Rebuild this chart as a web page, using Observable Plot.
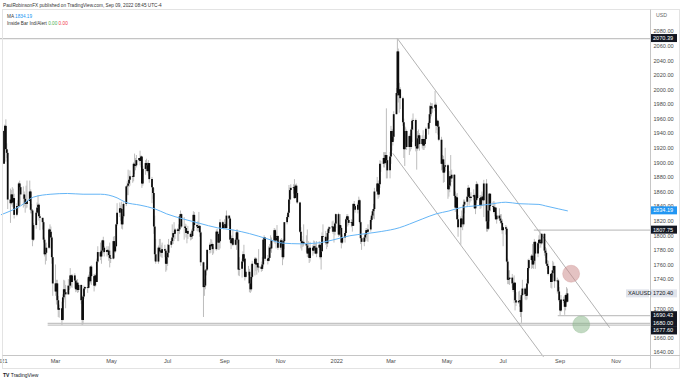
<!DOCTYPE html>
<html><head><meta charset="utf-8">
<script src="https://cdn.jsdelivr.net/npm/d3@7"></script>
<script src="https://cdn.jsdelivr.net/npm/@observablehq/plot@0.6"></script>
<style>
html,body{margin:0;padding:0;background:#fff;}
#chart{width:680px;height:380px;overflow:hidden;}
</style></head><body>
<div id="chart"></div>
<script>
// ---- Data (XAUUSD daily, Jan 4 2021 – Sep 9 2022, one week per line) ----
const startDate = "2021-01-04";
const endDate = "2022-09-09";
const firstOpen = 1898;
const close = [
1943,1950,1918,1913,1849, 1844,1856,1845,1851,1828, 1840,1840,1871,1866,1856, 1856,1850,1843,1843,1847,
1860,1835,1834,1794,1814, 1831,1838,1842,1826,1824, 1818,1794,1774,1776,1783, 1808,1805,1797,1770,1734,
1723,1734,1711,1698,1700, 1684,1715,1726,1722,1719, 1731,1731,1745,1736,1745, 1738,1726,1735,1725,1732,
1711,1684,1716,1727,1729, 1728,1743,1737,1757,1744, 1731,1745,1736,1764,1777, 1771,1779,1793,1783,1777,
1780,1779,1773,1769,1768, 1792,1778,1785,1815,1831, 1837,1836,1815,1826,1843, 1867,1868,1871,1876,1881,
1880,1898,1895,1896,1903, 1906,1902,1908,1871,1891, 1899,1896,1888,1899,1877, 1866,1858,1812,1774,1764,
1783,1778,1779,1776,1781, 1779,1761,1770,1776,1787, 1792,1797,1803,1802,1808, 1806,1808,1826,1829,1812,
1812,1810,1803,1806,1802, 1798,1799,1806,1828,1814, 1812,1810,1813,1804,1763, 1729,1731,1752,1753,1780,
1787,1785,1788,1781,1781, 1805,1802,1790,1792,1818, 1810,1814,1815,1810,1827, 1823,1794,1789,1796,1787,
1794,1804,1794,1753,1754, 1764,1774,1768,1743,1750, 1750,1734,1726,1743,1761, 1768,1760,1762,1756,1757,
1754,1760,1794,1797,1768, 1765,1769,1783,1782,1793, 1807,1793,1797,1799,1783, 1793,1788,1770,1792,1818,
1825,1831,1849,1862,1865, 1866,1851,1868,1858,1845, 1805,1792,1789,1791,1788, 1786,1775,1782,1769,1783,
1779,1785,1783,1775,1783, 1787,1770,1778,1799,1798, 1790,1789,1803,1809,1811, 1812,1805,1805,1816,1829,
1801,1814,1810,1790,1797, 1803,1822,1826,1821,1817, 1818,1813,1843,1840,1835, 1842,1848,1818,1796,1791,
1797,1801,1807,1805,1808, 1821,1827,1833,1836,1860, 1871,1856,1870,1898,1898, 1906,1899,1910,1903,1889,
1908,1943,1928,1935,1966, 1995,2052,1992,2000,1988, 1955,1918,1943,1943,1921, 1936,1921,1945,1957,1958,
1922,1919,1933,1937,1925, 1932,1923,1925,1932,1946, 1954,1966,1977,1974,1975, 1979,1950,1957,1949,1931,
1898,1904,1886,1894,1896, 1863,1868,1881,1878,1883, 1854,1838,1852,1822,1811, 1823,1815,1815,1842,1846,
1853,1865,1853,1851,1853, 1855,1837,1848,1870,1851, 1841,1852,1853,1848,1871, 1819,1809,1834,1857,1840,
1839,1832,1838,1822,1827, 1823,1820,1817,1807,1811, 1809,1764,1739,1740,1742, 1734,1725,1735,1711,1708,
1710,1711,1695,1718,1727, 1719,1717,1734,1755,1766, 1772,1760,1765,1791,1775, 1789,1794,1791,1789,1802,
1779,1776,1761,1758,1747, 1736,1748,1752,1758,1737, 1738,1723,1711,1697,1712, 1710,1702,1718,1709,1720.4
];
const high = [
1944,1952,1959,1926,1917, 1864,1862,1866,1864,1857, 1844,1848,1873,1875,1871, 1867,1860,1855,1868,1875,
1875,1863,1843,1836,1817, 1834,1845,1855,1844,1829, 1823,1820,1797,1789,1790, 1810,1815,1812,1799,1770,
1760,1739,1739,1717,1705, 1709,1719,1739,1738,1732, 1740,1739,1755,1746,1747, 1748,1741,1739,1740,1735,
1732,1713,1718,1731,1730, 1741,1746,1750,1758,1759, 1747,1747,1748,1768,1785, 1790,1780,1794,1798,1785,
1785,1781,1785,1790,1779, 1798,1799,1789,1816,1844, 1845,1841,1846,1829,1845, 1868,1874,1890,1883,1889,
1882,1900,1912,1906,1910, 1906,1916,1910,1907,1895, 1903,1905,1900,1903,1899, 1880,1866,1865,1827,1795,
1786,1795,1795,1787,1790, 1787,1782,1774,1788,1795, 1795,1815,1806,1818,1810, 1810,1815,1829,1834,1830,
1825,1816,1815,1810,1813, 1804,1808,1810,1833,1832, 1817,1820,1832,1812,1806, 1764,1740,1754,1758,1781,
1790,1795,1794,1790,1784, 1808,1809,1805,1795,1822, 1820,1817,1822,1818,1834, 1827,1825,1799,1800,1808,
1796,1808,1808,1795,1770, 1768,1778,1787,1769,1753, 1758,1754,1739,1760,1765, 1770,1770,1768,1763,1781,
1764,1770,1796,1800,1796, 1773,1785,1788,1800,1797, 1810,1809,1804,1814,1800, 1795,1796,1794,1795,1818,
1828,1833,1869,1866,1870, 1870,1877,1870,1871,1868, 1846,1811,1799,1794,1815, 1800,1808,1792,1784,1791,
1787,1793,1792,1789,1792, 1792,1790,1781,1804,1815, 1806,1796,1807,1812,1812, 1819,1820,1810,1818,1830,
1831,1816,1829,1812,1801, 1806,1824,1829,1829,1826, 1822,1821,1844,1847,1842, 1845,1853,1850,1820,1799,
1799,1803,1810,1810,1815, 1824,1829,1836,1843,1865, 1880,1875,1875,1903,1902, 1914,1914,1914,1974,1910,
1914,1950,1946,1945,1970, 2002,2070.39,2056,2009,2003, 1990,1960,1950,1948,1945, 1938,1940,1948,1960,1967,
1960,1930,1943,1945,1940, 1937,1944,1934,1937,1948, 1956,1978,1982,1981,1981, 1998,1982,1960,1958,1955,
1935,1910,1909,1900,1920, 1898,1872,1888,1910,1890, 1884,1860,1856,1858,1828, 1826,1834,1827,1849,1849,
1864,1869,1866,1857,1859, 1863,1857,1849,1874,1872, 1855,1855,1860,1857,1876, 1877,1833,1835,1858,1857,
1846,1847,1845,1837,1831, 1837,1829,1829,1822,1812, 1814,1812,1768,1752,1752, 1747,1737,1745,1736,1722,
1723,1724,1715,1721,1739, 1729,1727,1740,1767,1768, 1774,1788,1768,1795,1792, 1791,1800,1807.75,1795,1803,
1803,1784,1782,1766,1765, 1748,1752,1765,1763,1757, 1742,1740,1729,1711,1718, 1716,1713,1720,1729,1727
];
const low = [
1898,1931,1901,1906,1836, 1817,1842,1839,1837,1823, 1826,1831,1837,1861,1841, 1838,1840,1831,1837,1838,
1850,1830,1830,1785,1792, 1809,1829,1834,1820,1807, 1808,1790,1771,1760,1765, 1781,1793,1782,1761,1717,
1717,1705,1712,1688,1687, 1677,1683,1708,1712,1700, 1719,1725,1727,1729,1728, 1728,1722,1723,1721,1722,
1706,1677,1678,1713,1725, 1721,1727,1732,1734,1732, 1723,1729,1731,1736,1762, 1766,1761,1776,1775,1771,
1771,1771,1765,1756,1762, 1767,1769,1776,1784,1813, 1825,1820,1809,1808,1823, 1840,1855,1855,1866,1868,
1872,1874,1884,1889,1893, 1901,1896,1893,1865,1868, 1883,1888,1886,1882,1872, 1844,1850,1802,1765,1761,
1761,1775,1771,1770,1769, 1770,1750,1752,1758,1769, 1783,1789,1788,1792,1795, 1792,1792,1802,1823,1810,
1794,1807,1797,1789,1795, 1793,1794,1795,1805,1810, 1806,1805,1806,1798,1758, 1688,1717,1726,1745,1751,
1775,1776,1781,1773,1775, 1779,1799,1780,1780,1782, 1810,1808,1809,1809,1809, 1813,1790,1781,1786,1785,
1786,1780,1789,1745,1744, 1742,1762,1763,1738,1741, 1745,1722,1721,1723,1741, 1745,1751,1746,1752,1749,
1750,1751,1757,1788,1765, 1760,1764,1775,1778,1776, 1790,1788,1782,1792,1780, 1780,1785,1759,1767,1781,
1815,1822,1824,1843,1849, 1857,1850,1851,1853,1843, 1803,1782,1779,1784,1785, 1777,1770,1770,1762,1764,
1772,1775,1775,1774,1770, 1780,1767,1753,1778,1792, 1787,1781,1784,1795,1806, 1805,1802,1790,1800,1810,
1798,1799,1807,1782,1788, 1790,1800,1816,1812,1814, 1811,1805,1813,1834,1831, 1830,1837,1816,1788,1780,
1785,1792,1795,1792,1791, 1805,1818,1822,1823,1822, 1855,1850,1852,1865,1887, 1893,1893,1897,1878,1878,
1878,1898,1916,1923,1930, 1966,1991,1982,1968,1973, 1950,1906,1895,1924,1917, 1910,1915,1918,1928,1944,
1915,1890,1916,1924,1916, 1919,1917,1917,1920,1930, 1938,1947,1960,1963,1968, 1970,1940,1944,1938,1929,
1889,1890,1872,1873,1888, 1850,1853,1859,1866,1873, 1851,1832,1837,1821,1798, 1787,1811,1807,1812,1830,
1840,1852,1841,1845,1847, 1848,1836,1829,1844,1849, 1836,1837,1845,1840,1825, 1805,1805,1807,1819,1833,
1835,1830,1826,1821,1816, 1820,1816,1815,1802,1785, 1801,1763,1733,1733,1732, 1728,1722,1707,1697,1703,
1706,1702,1688,1680,1717, 1712,1711,1712,1732,1752, 1754,1755,1754,1762,1754, 1770,1782,1788,1783,1787,
1772,1769,1759,1754,1745, 1728,1727,1742,1751,1728, 1720,1722,1709,1690.43,1695, 1707,1691,1697,1707,1708
];
// Moving average (blue line) read at sample dates
const maDates = ["2021-01-01","2021-01-22","2021-02-05","2021-02-24","2021-03-14","2021-03-31","2021-04-19","2021-05-07","2021-05-16","2021-06-01","2021-06-17","2021-06-30","2021-07-18","2021-08-05","2021-08-24","2021-09-10","2021-09-28","2021-10-17","2021-11-03","2021-11-22","2021-12-10","2021-12-27","2022-01-15","2022-02-02","2022-02-19","2022-03-10","2022-03-21","2022-04-04","2022-04-19","2022-05-03","2022-05-17","2022-06-01","2022-06-15","2022-07-04","2022-07-18","2022-08-09","2022-08-16","2022-08-30","2022-09-09"];
const maValues = [1829,1841,1853,1857,1858,1857,1857,1852,1846,1842,1837,1830,1823,1817,1811,1808,1803,1796,1790,1789,1790,1794,1800,1803,1806,1811,1816,1823,1830,1834,1839,1841,1843,1846,1844,1843,1841,1837,1834.19];
// Drawn channel lines
const channelStartDates = ["2022-03-08","2022-03-03"];
const channelStartPrices = [2070.39,1913];
const channelEndDates = ["2022-10-25","2022-08-14"];
const channelEndPrices = [1674,1634];
// Horizontal levels
const levelValues = [2070.39,1807.75,1690.43,1680.00,1677.60];
const levelStarts = ["2020-12-30","2022-08-04","2022-08-30","2021-02-21","2021-02-21"];
// Circles
const circleDates = ["2022-09-13","2022-09-24"];
const circlePrices = [1748,1678.4];
const circleColors = ["#c98686","#86b486"];
// Price tags on right axis
const tagValues = [2070.39,1834.19,1807.75,1720.40,1690.43,1680.00,1677.60];
const tagBgs = ["#131722","#2196f3","#131722","#e0e3eb","#131722","#131722","#131722"];
const tagFgs = ["#fff","#fff","#fff","#131722","#fff","#fff","#fff"];
// Axis ticks (1720 and 1680 sit under the price tags and are hidden, as in the reference)
const xTickDates = ["2021-01-01","2021-03-01","2021-05-01","2021-07-01","2021-09-01","2021-11-01","2022-01-01","2022-03-01","2022-05-01","2022-07-01","2022-09-01","2022-11-01"];
const yTickValues = [1640,1660,1700,1740,1760,1780,1800,1820,1840,1860,1880,1900,1920,1940,1960,1980,2000,2020,2040,2060,2080];

// ---- Build tables ----
const days = d3.utcDays(new Date(startDate+"T00:00Z"), d3.utcDay.offset(new Date(endDate+"T00:00Z"),1))
  .filter(d => d.getUTCDay() !== 0 && d.getUTCDay() !== 6);
const bars = days.map((d,i) => ({date:d, open: i ? close[i-1] : firstOpen, close: close[i], high: high[i], low: low[i]}));
const ma = maDates.map((d,i) => ({date:new Date(d+"T00:00Z"), v:maValues[i]}));
const xDomain = [new Date("2020-12-31T03:40Z"), new Date("2022-12-08T09:00Z")];
const channels = channelStartDates.map((d,i)=>({x1:new Date(d+"T00:00Z"), y1:channelStartPrices[i], x2:new Date(channelEndDates[i]+"T00:00Z"), y2:channelEndPrices[i]}));
const levels = levelValues.map((v,i)=>({v, start:new Date(levelStarts[i]+"T00:00Z"), end:xDomain[1]}));
const circles = circleDates.map((d,i)=>({date:new Date(d+"T00:00Z"), v:circlePrices[i], c:circleColors[i]}));
const monthNames = ["Jan","Feb","Mar","Apr","May","Jun","Jul","Aug","Sep","Oct","Nov","Dec"];

const plot = Plot.plot({
  width: 680, height: 380,
  marginTop: 9, marginBottom: 25, marginLeft: 0, marginRight: 30,
  style: {fontFamily: "'Liberation Sans', Arial, sans-serif", fontSize: "5.6px", background: "#fff", overflow: "hidden"},
  x: {type: "utc", domain: xDomain, axis: null},
  y: {domain: [1635.9, 2110.2], axis: null},
  marks: [
    Plot.axisX({ticks: xTickDates.map(d=>new Date(d+"T00:00Z")), anchor: "bottom", tickSize: 0, tickPadding: 4, color: "#4a4a4a",
      tickFormat: d => d.getUTCMonth() === 0 ? String(d.getUTCFullYear()) : monthNames[d.getUTCMonth()], label: null}),
    Plot.axisY({ticks: yTickValues, anchor: "right", tickSize: 0, tickPadding: 3, color: "#4a4a4a",
      tickFormat: d => d.toFixed(2), label: null}),
    Plot.ruleY(levels, {y: "v", x1: "start", x2: "end", stroke: "#c4c4c4", strokeWidth: 1.2}),
    Plot.link(channels, {x1: "x1", y1: "y1", x2: "x2", y2: "y2", stroke: "#a0a0a0", strokeWidth: 0.8}),
    Plot.ruleX(bars, {x: "date", y1: "low", y2: "high", stroke: "#bdbdbd", strokeWidth: 1}),
    Plot.ruleX(bars, {x: "date", y1: "open", y2: "close", stroke: "#0d0d0d", strokeWidth: 1.8}),
    Plot.line(ma, {x: "date", y: "v", stroke: "#64b5f6", strokeWidth: 1, curve: "monotone-x"}),
    Plot.dot(circles, {x: "date", y: "v", r: 8.5, fill: "c", fillOpacity: 0.5, stroke: "c", strokeOpacity: 0.5, strokeWidth: 0.6})
  ]
});
document.getElementById("chart").appendChild(plot);

// ---- Chrome: frame, separators, tags, legend text ----
const svg = d3.select(plot);
const ys = plot.scale("y");
const g = svg.append("g").attr("text-anchor","start");
const fr = g.append("g").attr("fill","none");
fr.append("rect").attr("x",2.5).attr("y",9.5).attr("width",677).attr("height",359).attr("stroke","#e3e3e3");
fr.append("line").attr("x1",2.5).attr("x2",680).attr("y1",355.5).attr("y2",355.5).attr("stroke","#c6c6c6");
fr.append("line").attr("x1",650.5).attr("x2",650.5).attr("y1",9.5).attr("y2",368.5).attr("stroke","#c6c6c6");

// tags with simple collision avoidance
const tags = tagValues.map((v,i)=>({v, y: ys.apply(v), bg: tagBgs[i], fg: tagFgs[i]})).sort((a,b)=>a.y-b.y);
for (let i=1;i<tags.length;i++) if (tags[i].y < tags[i-1].y + 7.6) tags[i].y = tags[i-1].y + 7.6;
const tg = g.append("g").style("font-size","5.6px");
for (const t of tags) {
  tg.append("rect").attr("x",651).attr("y",t.y-4).attr("width",26).attr("height",8).attr("fill",t.bg);
  tg.append("text").attr("x",653).attr("y",t.y).attr("dy","0.35em").attr("fill",t.fg).text(t.v.toFixed(2));
  if (t.v === 1720.40) {
    tg.append("rect").attr("x",626).attr("y",t.y-4).attr("width",23).attr("height",8).attr("fill",t.bg);
    tg.append("text").attr("x",628).attr("y",t.y).attr("dy","0.35em").attr("fill",t.fg).text("XAUUSD");
  }
}
const tx = g.append("g").attr("fill","#333").style("font-size","4.7px");
tx.append("text").attr("x",3).attr("y",6.5).text("PaulRobinsonFX published on TradingView.com, Sep 09, 2022 08:45 UTC-4");
const t1 = tx.append("text").attr("x",7).attr("y",17.5);
t1.append("tspan").text("MA ");
t1.append("tspan").attr("fill","#2196f3").text("1834.19");
const t2 = tx.append("text").attr("x",7).attr("y",24.5);
t2.append("tspan").text("Inside Bar Ind/Alert ");
t2.append("tspan").attr("fill","#4caf50").text("0.00 ");
t2.append("tspan").attr("fill","#f23645").text("0.00");
g.append("text").attr("x",656).attr("y",17).attr("fill","#666").style("font-size","5.2px").text("USD");
const ft = g.append("text").attr("x",3).attr("y",377).attr("fill","#131722").style("font-size","5px");
ft.append("tspan").attr("font-weight","bold").text("TV ");
ft.append("tspan").text("TradingView");
</script>
</body></html>
